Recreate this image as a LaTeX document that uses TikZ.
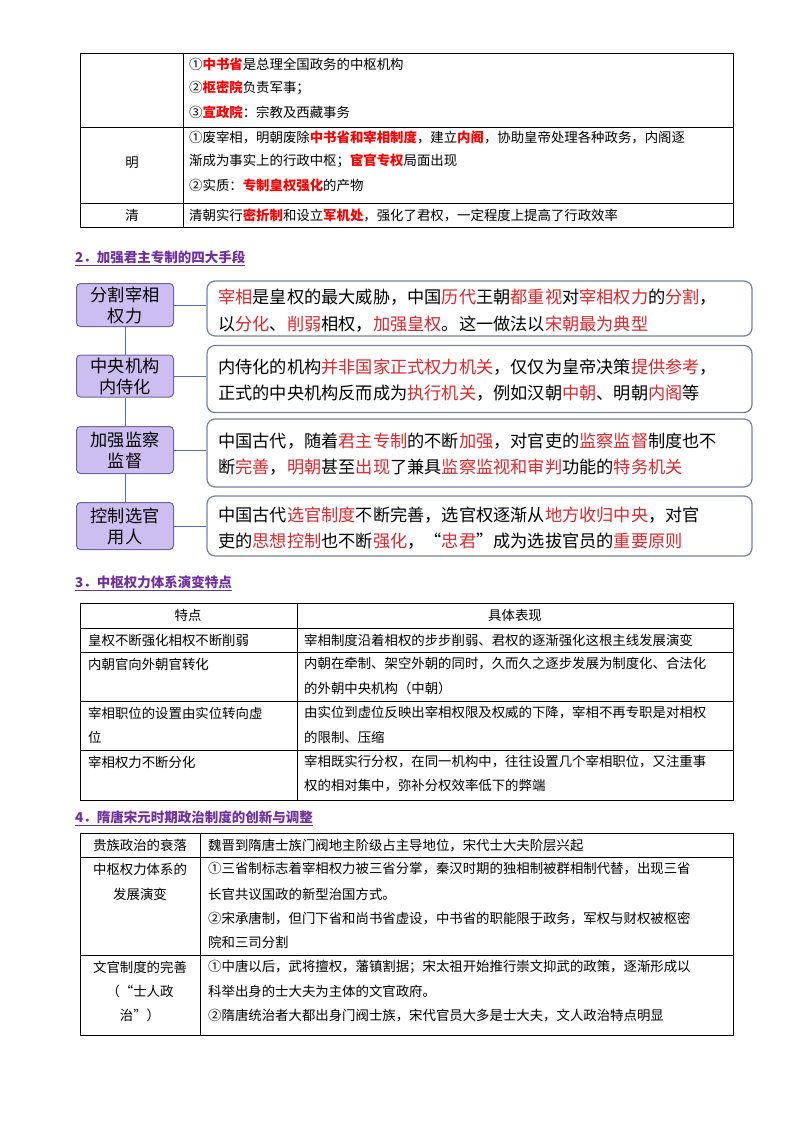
\documentclass[tikz,border=0pt]{standalone}
\usepackage{fontspec}
\setmainfont{Noto Sans CJK SC}
\usepackage{xcolor}
\definecolor{hred}{RGB}{255,0,0}
\definecolor{bred}{RGB}{222,40,45}
\definecolor{hpurp}{RGB}{112,48,160}
\definecolor{lbox}{RGB}{204,190,240}
\definecolor{lbord}{RGB}{110,100,160}
\definecolor{rbord}{RGB}{120,130,160}
\definecolor{lnk}{RGB}{80,110,190}
\newcommand\hr[1]{\textcolor{hred}{\bfseries #1}}
\newcommand\br[1]{\textcolor{bred}{#1}}
\tikzset{
 tx/.style={anchor=west,inner sep=0pt,font=\fontsize{13.4}{15}\selectfont},
 tc/.style={anchor=center,inner sep=0pt,font=\fontsize{13.4}{15}\selectfont},
 bt/.style={anchor=west,inner sep=0pt,font=\fontsize{17.2}{20}\selectfont},
 head/.style={anchor=west,inner sep=0pt,font=\fontsize{13.5}{16}\selectfont\bfseries,text=hpurp},
 grid/.style={draw=black,line width=0.7pt},
 lb/.style={draw=lbord,fill=lbox,rounded corners=4pt,line width=1pt},
 rb/.style={draw=rbord,fill=white,rounded corners=8pt,line width=1.2pt},
 lbt/.style={align=center,inner sep=0pt,font=\fontsize{17.2}{21}\selectfont},
 lk/.style={draw=lnk,line width=1pt}
}
\begin{document}
\begin{tikzpicture}[x=1pt,y=-1pt]
\useasboundingbox (0,0) rectangle (800,1134);
% ---- table 1
\draw[grid] (80,53) rectangle (733,227);
\draw[grid] (183,53) -- (183,227);
\draw[grid] (80,127) -- (733,127);
\draw[grid] (80,203) -- (733,203);
\node[tx] (a1) at (189,64) {①\hr{中书省}是总理全国政务的中枢机构};
\node[tx] (a2) at (189,88) {②\hr{枢密院}负责军事；};
\node[tx] (a3) at (189,112) {③\hr{宣政院}：宗教及西藏事务};
\node[tc] (m) at (132,163) {明};
\node[tx] (b1) at (189,137) {①废宰相，明朝废除\hr{中书省和宰相制度}，建立\hr{内阁}，协助皇帝处理各种政务，内阁逐};
\node[tx] (b2) at (189,161) {渐成为事实上的行政中枢；\hr{宦官专权}局面出现};
\node[tx] (b3) at (189,185) {②实质：\hr{专制皇权强化}的产物};
\node[tc] (q) at (132,215) {清};
\node[tx] (c1) at (189,215) {清朝实行\hr{密折制}和设立\hr{军机处}，强化了君权，一定程度上提高了行政效率};
% ---- section 2
\node[head] (h2) at (75,258) {\underline{2．加强君主专制的四大手段}};
\node[lb,minimum width=97pt,minimum height=43pt] (L1) at (125,305) {};
\node[lb,minimum width=97pt,minimum height=42pt] (L2) at (125,376) {};
\node[lb,minimum width=97pt,minimum height=47pt] (L3) at (125,450) {};
\node[lb,minimum width=97pt,minimum height=47pt] (L4) at (125,526) {};
\draw[lk] (L1.south) -- (L2.north) (L2.south) -- (L3.north) (L3.south) -- (L4.north);
\node[lbt] (L1t) at (L1) {分割宰相\\权力};
\node[lbt] (L2t) at (L2) {中央机构\\内侍化};
\node[lbt] (L3t) at (L3) {加强监察\\监督};
\node[lbt] (L4t) at (L4) {控制选官\\用人};
\node[rb,minimum width=545pt,minimum height=55pt] (R1) at (479.5,308.5) {};
\node[rb,minimum width=545pt,minimum height=67pt] (R2) at (479.5,379) {};
\node[rb,minimum width=545pt,minimum height=68pt] (R3) at (479.5,453) {};
\node[rb,minimum width=545pt,minimum height=60pt] (R4) at (479.5,526) {};
\draw[lk] (L1.east) -- (L1.east -| R1.west);
\draw[lk] (L2.east) -- (L2.east -| R2.west);
\draw[lk] (L3.east) -- (L3.east -| R3.west);
\draw[lk] (L4.east) -- (L4.east -| R4.west);
\node[bt] (r11) at (218,297) {\br{宰相}是皇权的最大威胁，中国\br{历代}王朝\br{都重视}对\br{宰相权力}的\br{分割}，};
\node[bt] (r12) at (218,324) {以\br{分化}、\br{削弱}相权，\br{加强皇权}。这一做法以\br{宋朝最为典型}};
\node[bt] (r21) at (218,367) {内侍化的机构\br{并非国家正式权力机关}，仅仅为皇帝决策\br{提供参考}，};
\node[bt] (r22) at (218,393) {正式的中央机构反而成为\br{执行机关}，例如汉朝\br{中朝}、明朝\br{内阁}等};
\node[bt] (r31) at (218,441) {中国古代，随着\br{君主专制}的不断\br{加强}，对官吏的\br{监察监督}制度也不};
\node[bt] (r32) at (218,467) {断\br{完善}，\br{明朝}甚至\br{出现}了兼具\br{监察监视和审判}功能的\br{特务机关}};
\node[bt] (r41) at (218,515) {中国古代\br{选官制度}不断完善，选官权逐渐从\br{地方收归中央}，对官};
\node[bt] (r42) at (218,541) {吏的\br{思想控制}也不断\br{强化}，“\br{忠君}”成为选拔官员的\br{重要原则}};
% ---- section 3
\node[head] (h3) at (75,583) {\underline{3．中枢权力体系演变特点}};
\draw[grid] (80,603) rectangle (733,800);
\draw[grid] (297,603) -- (297,800);
\foreach \yy in {628,652,701,750} \draw[grid] (80,\yy) -- (733,\yy);
\node[tc] (t0) at (188,615) {特点};
\node[tc] (t0r) at (515,615) {具体表现};
\node[tx] (t1) at (88,640) {皇权不断强化相权不断削弱};
\node[tx] (t1r) at (304,640) {宰相制度沿着相权的步步削弱、君权的逐渐强化这根主线发展演变};
\node[tx] (t2) at (88,664) {内朝官向外朝官转化};
\node[tx] (t2r) at (304,664) {内朝在牵制、架空外朝的同时，久而久之逐步发展为制度化、合法化};
\node[tx] (t2s) at (304,688) {的外朝中央机构（中朝）};
\node[tx] (t3) at (88,713) {宰相职位的设置由实位转向虚};
\node[tx] (t3b) at (88,737) {位};
\node[tx] (t3r) at (304,713) {由实位到虚位反映出宰相权限及权威的下降，宰相不再专职是对相权};
\node[tx] (t3s) at (304,737) {的限制、压缩};
\node[tx] (t4) at (88,762) {宰相权力不断分化};
\node[tx] (t4r) at (304,762) {宰相既实行分权，在同一机构中，往往设置几个宰相职位，又注重事};
\node[tx] (t4s) at (304,786) {权的相对集中，弥补分权效率低下的弊端};
% ---- section 4
\node[head] (h4) at (75,818) {\underline{4．隋唐宋元时期政治制度的创新与调整}};
\draw[grid] (80,833) rectangle (733,1035);
\draw[grid] (200,833) -- (200,1035);
\draw[grid] (80,857) -- (733,857);
\draw[grid] (80,955) -- (733,955);
\node[tc] (u1) at (140,845) {贵族政治的衰落};
\node[tx] (u1r) at (208,845) {魏晋到隋唐士族门阀地主阶级占主导地位，宋代士大夫阶层兴起};
\node[tc] (u2) at (140,869) {中枢权力体系的};
\node[tc] (u2b) at (140,894) {发展演变};
\node[tx] (u2r1) at (208,869) {①三省制标志着宰相权力被三省分掌，秦汉时期的独相制被群相制代替，出现三省};
\node[tx] (u2r2) at (208,894) {长官共议国政的新型治国方式。};
\node[tx] (u2r3) at (208,918) {②宋承唐制，但门下省和尚书省虚设，中书省的职能限于政务，军权与财权被枢密};
\node[tx] (u2r4) at (208,942) {院和三司分割};
\node[tc] (u3) at (140,967) {文官制度的完善};
\node[tc] (u3b) at (140,991) {（“士人政};
\node[tc] (u3c) at (140,1015) {治”）};
\node[tx] (u3r1) at (208,967) {①中唐以后，武将擅权，藩镇割据；宋太祖开始推行崇文抑武的政策，逐渐形成以};
\node[tx] (u3r2) at (208,991) {科举出身的士大夫为主体的文官政府。};
\node[tx] (u3r3) at (208,1015) {②隋唐统治者大都出身门阀士族，宋代官员大多是士大夫，文人政治特点明显};
\end{tikzpicture}
\end{document}
